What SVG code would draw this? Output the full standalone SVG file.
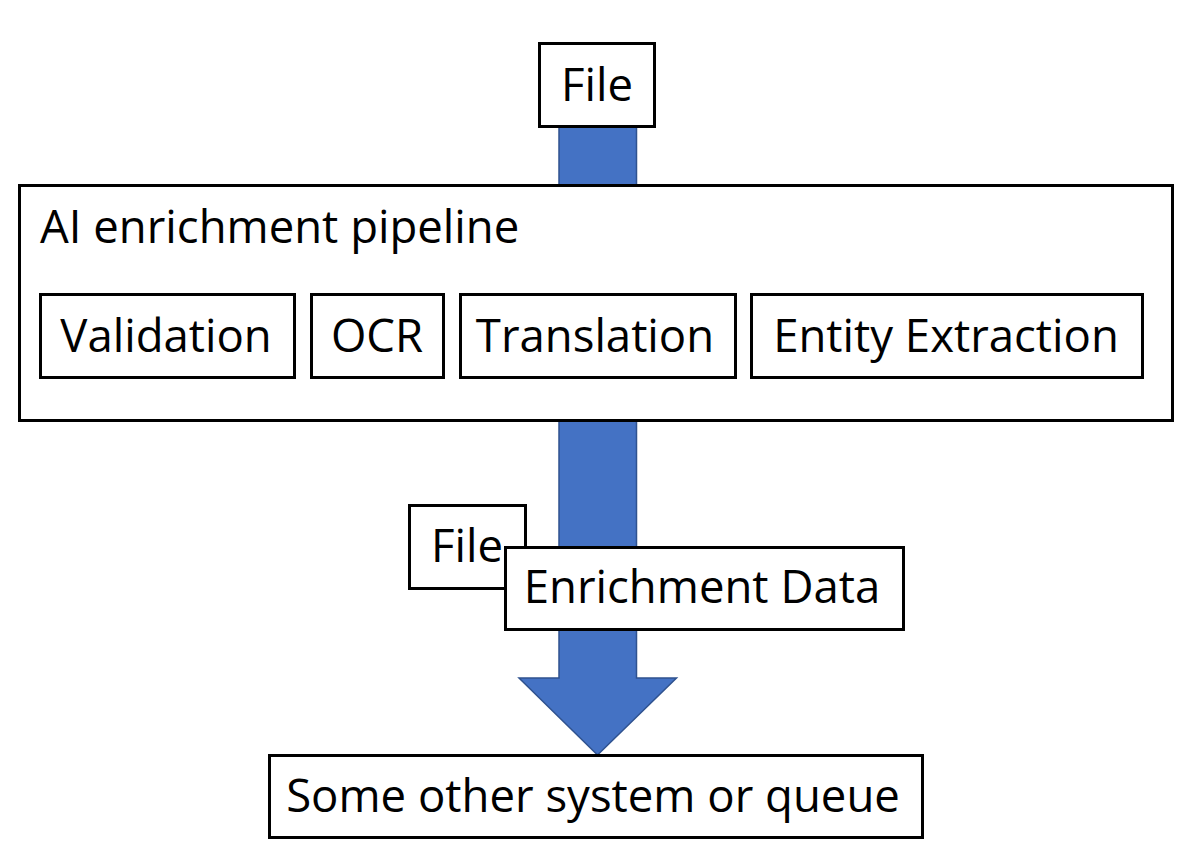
<svg xmlns="http://www.w3.org/2000/svg" width="1195" height="862" viewBox="0 0 1195 862">
<style>
.box{fill:#fff;stroke:#000;stroke-width:3}
.t{font-family:"Open Sans","Liberation Sans",sans-serif;font-size:45.5px;fill:#000}
.m{text-anchor:middle}
.arrow{fill:#4472C4;stroke:#2F528F;stroke-width:1.5}
</style>
<rect width="1195" height="862" fill="#fff"/>
<g id="connectors">
<path class="arrow" d="M559,120 L636.5,120 L636.5,678 L676.5,678 L597.5,755 L519,678 L559,678 Z"/>
</g>
<g id="file-in">
<rect class="box" x="539.5" y="43.5" width="115" height="83"/>
<text class="t m" x="597" y="101">File</text>
</g>
<g id="pipeline">
<rect class="box" x="19.5" y="185.5" width="1153" height="235"/>
<text class="t" x="40" y="243">AI enrichment pipeline</text>
</g>
<g id="validation">
<rect class="box" x="40.5" y="294.5" width="254" height="83"/>
<text class="t m" x="166" y="352">Validation</text>
</g>
<g id="ocr">
<rect class="box" x="311.5" y="294.5" width="132" height="83"/>
<text class="t m" x="377" y="352">OCR</text>
</g>
<g id="translation">
<rect class="box" x="460.5" y="294.5" width="275" height="83"/>
<text class="t m" x="595" y="352">Translation</text>
</g>
<g id="entity">
<rect class="box" x="751.5" y="294.5" width="391" height="83"/>
<text class="t m" x="946" y="352">Entity Extraction</text>
</g>
<g id="file-out">
<rect class="box" x="409.5" y="505.5" width="116" height="83"/>
<text class="t m" x="467" y="562">File</text>
</g>
<g id="enrichment-data">
<rect class="box" x="505.5" y="547.5" width="398" height="82"/>
<text class="t m" x="702" y="603">Enrichment Data</text>
</g>
<g id="other-system">
<rect class="box" x="269.5" y="755.5" width="653" height="82"/>
<text class="t m" x="593" y="812">Some other system or queue</text>
</g>
</svg>
